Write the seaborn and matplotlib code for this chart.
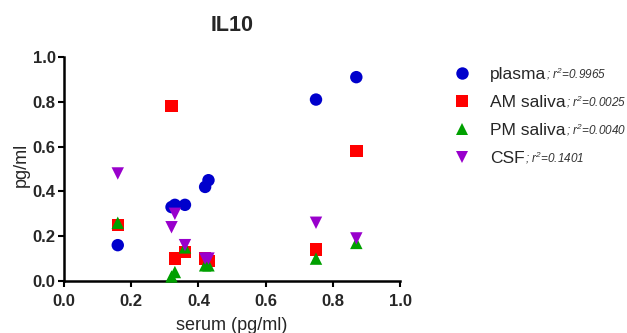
import matplotlib
matplotlib.use("Agg")
import matplotlib.pyplot as plt
import seaborn as sns
import pandas as pd

# --- Dados ---
serum = [0.16, 0.32, 0.33, 0.36, 0.42, 0.43, 0.75, 0.87]
plasma = [0.16, 0.33, 0.34, 0.34, 0.42, 0.45, 0.81, 0.91]
am_saliva = [0.25, 0.78, 0.10, 0.13, 0.10, 0.09, 0.14, 0.58]
pm_saliva = [0.26, 0.02, 0.04, 0.15, 0.07, 0.07, 0.10, 0.17]
csf = [0.48, 0.24, 0.30, 0.16, 0.10, 0.10, 0.26, 0.19]

series_names = ["plasma", "AM saliva", "PM saliva", "CSF"]
r2_labels = ["; r$^2$=0.9965", "; r$^2$=0.0025", "; r$^2$=0.0040", "; r$^2$=0.1401"]
colors = ["#0000cc", "#ff0000", "#00a000", "#9900cc"]
markers = ["o", "s", "^", "v"]

df = pd.DataFrame({
    "serum": serum * 4,
    "valor": plasma + am_saliva + pm_saliva + csf,
    "fluido": sum([[n] * len(serum) for n in series_names], []),
})

sns.set_style("white")
plt.rcParams['font.family'] = ['Liberation Sans', 'DejaVu Sans']
plt.rcParams['mathtext.fontset'] = 'custom'
plt.rcParams['mathtext.it'] = 'Liberation Sans:italic'
plt.rcParams['mathtext.rm'] = 'Liberation Sans:italic'

fig = plt.figure(figsize=(6.27, 3.33), dpi=100)
ax = fig.add_axes([64 / 627, 1 - 281 / 333, 336 / 627, 224 / 333])

sns.scatterplot(data=df, x="serum", y="valor", hue="fluido", style="fluido",
                hue_order=series_names, style_order=series_names,
                palette=colors, markers=markers, s=80, linewidth=0,
                ax=ax, legend=True, zorder=3, clip_on=False)

ax.set_xlim(0, 1.0)
ax.set_ylim(0, 1.0)
ax.set_xticks([0, 0.2, 0.4, 0.6, 0.8, 1.0])
ax.set_yticks([0, 0.2, 0.4, 0.6, 0.8, 1.0])
ax.set_xticklabels([f"{v:.1f}" for v in ax.get_xticks()], fontweight='bold', fontsize=12)
ax.set_yticklabels([f"{v:.1f}" for v in ax.get_yticks()], fontweight='bold', fontsize=12)
ax.tick_params(direction='out', length=4, width=1.5, color='black', pad=2,
               bottom=True, left=True)
ax.tick_params(axis='x', pad=5)
for side in ["top", "right"]:
    ax.spines[side].set_visible(False)
for side in ["left", "bottom"]:
    ax.spines[side].set_linewidth(1.8)
    ax.spines[side].set_color('black')
ax.set_xlabel("serum (pg/ml)", fontsize=13, labelpad=6)
ax.set_ylabel("pg/ml", fontsize=13, labelpad=2, y=0.52)
ax.set_title("IL10", fontsize=15.5, fontweight='bold', pad=19)

leg = ax.legend(loc='upper left', bbox_to_anchor=(1.134, 0.955), frameon=False,
                fontsize=12.5, handlelength=2.0, handletextpad=0.6,
                labelspacing=0.74, borderpad=0, borderaxespad=0, markerscale=1.0)

# adiciona o r^2 em itálico logo após cada rótulo da legenda
fig.canvas.draw()
for txt, r2 in zip(leg.get_texts(), r2_labels):
    fig.add_artist(plt.Annotation(r2, xy=(1, 0), xycoords=txt,
                                  xytext=(0, 2.7), textcoords='offset points',
                                  fontsize=8.5, style='italic', color='#333333',
                                  ha='left', va='baseline'))

plt.savefig("out.png", dpi=100)
